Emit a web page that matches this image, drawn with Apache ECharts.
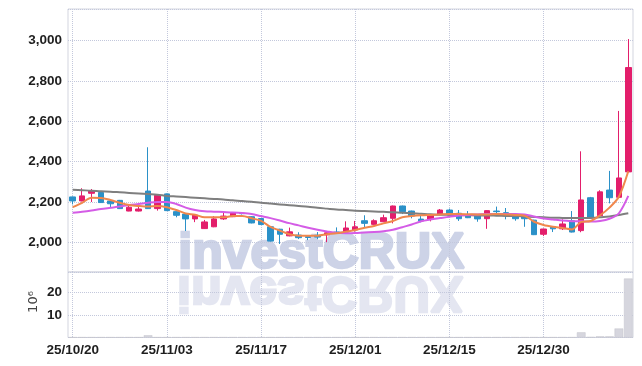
<!DOCTYPE html>
<html>
<head>
<meta charset="utf-8">
<script src="https://cdn.jsdelivr.net/npm/echarts@6/dist/echarts.min.js"></script>
<style>
html,body{margin:0;padding:0;background:#fff;}
#c{width:642px;height:366px;}
</style>
</head>
<body>
<div id="c"></div>
<script>
const dates = [
 '25/10/20','25/10/21','25/10/22','25/10/23','25/10/24','25/10/27','25/10/28','25/10/29','25/10/30','25/10/31',
 '25/11/03','25/11/04','25/11/05','25/11/06','25/11/07','25/11/10','25/11/11','25/11/12','25/11/13','25/11/14',
 '25/11/17','25/11/18','25/11/19','25/11/20','25/11/21','25/11/24','25/11/25','25/11/26','25/11/27','25/11/28',
 '25/12/01','25/12/02','25/12/03','25/12/04','25/12/05','25/12/08','25/12/09','25/12/10','25/12/11','25/12/12',
 '25/12/15','25/12/16','25/12/17','25/12/18','25/12/19','25/12/22','25/12/23','25/12/24','25/12/26','25/12/29',
 '25/12/30','26/01/02','26/01/05','26/01/06','26/01/07','26/01/08','26/01/09','26/01/12','26/01/13','26/01/14'
];
const openP  = [2225,2205,2243,2247,2205,2208,2155,2155,2254,2167, 2240,2152,2140,2116,2068,2077,2116,2127,2144,2127,
                2118,2077,2065,2032,2036,2028,2035,2037,2051,2051, 2061,2107,2089,2102,2119,2180,2155,2115,2114,2140,
                2160,2144,2132,2135,2117,2155,2147,2134,2132,2110, 2040,2077,2067,2107,2058,2221,2132,2259,2223,2349];
const closeP = [2205,2230,2254,2197,2191,2167,2174,2165,2167,2233, 2157,2134,2116,2135,2101,2116,2130,2145,2142,2096,
                2088,2006,2040,2052,2023,2024,2026,2047,2045,2071, 2077,2094,2107,2122,2180,2152,2130,2106,2135,2160,
                2140,2117,2122,2116,2157,2152,2134,2117,2117,2038, 2066,2067,2091,2051,2210,2124,2250,2221,2319,2866];
const lowP   = [2188,2203,2200,2195,2169,2165,2154,2153,2165,2157, 2155,2124,2056,2100,2066,2075,2111,2125,2138,2094,
                2086,2004,1992,2030,2016,2011,2016,2001,2043,2049, 2053,2074,2087,2100,2094,2140,2119,2099,2104,2138,
                2138,2106,2120,2102,2067,2140,2114,2107,2077,2036, 2031,2051,2061,2049,2050,2122,2128,2193,2221,2347];
const highP  = [2227,2268,2264,2249,2207,2210,2185,2179,2471,2236, 2242,2154,2142,2140,2111,2130,2147,2150,2148,2129,
                2120,2080,2067,2073,2050,2030,2051,2049,2074,2104, 2106,2134,2114,2137,2182,2182,2157,2134,2137,2165,
                2167,2160,2155,2137,2159,2177,2170,2136,2134,2112, 2068,2080,2114,2155,2451,2225,2258,2354,2651,3007];
const ma5    = [2174,2196,2221,2220,2210,2196,2185,2180,2177,2180, 2174,2160,2143,2137,2124,2124,2124,2130,2130,2119,
                2106,2077,2058,2040,2033,2033,2033,2040,2045,2053, 2061,2072,2081,2094,2106,2124,2130,2134,2136,2138,
                2140,2140,2139,2138,2138,2140,2138,2136,2132,2102, 2086,2077,2071,2064,2101,2106,2134,2172,2226,2352];
const ma10   = [2147,2152,2158,2165,2171,2177,2185,2190,2196,2200, 2200,2190,2172,2160,2154,2152,2150,2148,2145,2140,
                2130,2120,2108,2095,2084,2072,2062,2054,2047,2045, 2046,2049,2051,2055,2062,2075,2088,2104,2113,2120,
                2127,2133,2136,2138,2140,2140,2140,2140,2138,2128, 2118,2113,2108,2105,2104,2103,2106,2117,2144,2230];
const maLong = [2260,2258,2256,2253,2251,2248,2245,2242,2239,2236, 2230,2227,2224,2221,2218,2215,2212,2208,2205,2201,
                2196,2192,2188,2184,2180,2176,2171,2167,2163,2160, 2157,2155,2153,2151,2149,2146,2144,2141,2139,2137,
                2136,2135,2134,2133,2133,2132,2131,2130,2128,2126, 2124,2122,2121,2120,2120,2121,2124,2128,2135,2144];
const volume = [0.1,0.1,0.1,0.1,0.1,0.1,0.1,0.1,1.0,0.1, 0.1,0.1,0.1,0.1,0.1,0.1,0.1,0.1,0.1,0.1,
                0.1,0.1,0.1,0.1,0.1,0.1,0.1,0.1,0.1,0.1, 0.1,0.1,0.1,0.1,0.1,0.1,0.1,0.1,0.1,0.1,
                0.1,0.1,0.1,0.1,0.1,0.1,0.1,0.1,0.1,0.1, 0.1,0.1,0.1,0.1,2.3,0.2,0.5,0.5,4.0,26.2];

const UP = '#e31e6b', DOWN = '#2b91c8';
const candles = openP.map((o, i) => [o, closeP[i], lowP[i], highP[i]]);

const labelFont = {fontFamily: '"Liberation Sans Narrow","Liberation Sans",Arial,sans-serif', fontWeight: 'bold', fontSize: 13.5, color: '#1e1e1e'};
const splitStyle = {show: true, lineStyle: {type: 'dotted', color: '#c3c8dc', width: 1}};

const chart = echarts.init(document.getElementById('c'), null, {renderer: 'canvas'});
chart.setOption({
  animation: false,
  backgroundColor: '#fff',
  grid: [
    {left: 68, right: 9, top: 9, height: 263, show: true, borderColor: '#d3d5df', borderWidth: 1, backgroundColor: 'transparent'},
    {left: 68, right: 9, top: 272, height: 65.5, show: true, borderColor: '#d3d5df', borderWidth: 1, backgroundColor: 'transparent'}
  ],
  xAxis: [
    {type: 'category', gridIndex: 0, data: dates, boundaryGap: true,
     axisLine: {show: false}, axisTick: {show: false, interval: 9, alignWithLabel: true},
     axisLabel: {show: false, interval: 9},
     splitLine: Object.assign({interval: 9, alignWithLabel: true}, splitStyle)},
    {type: 'category', gridIndex: 1, data: dates, boundaryGap: true,
     axisLine: {show: false}, axisTick: {show: false, interval: 9, alignWithLabel: true},
     axisLabel: Object.assign({interval: 9, margin: 6}, labelFont),
     splitLine: Object.assign({interval: 9, alignWithLabel: true}, splitStyle)}
  ],
  yAxis: [
    {type: 'value', gridIndex: 0, min: 1853, max: 3156, splitNumber: 6, position: 'left',
     axisLine: {show: false}, axisTick: {show: false},
     axisLabel: Object.assign({margin: 6, padding: [4, 0, 0, 0], showMinLabel: false, showMaxLabel: false}, labelFont),
     splitLine: splitStyle},
    {type: 'value', gridIndex: 1, min: 0, max: 29.1, splitNumber: 3, position: 'left',
     axisLine: {show: false}, axisTick: {show: false},
     axisLabel: Object.assign({margin: 6, padding: [3, 0, 0, 0], showMinLabel: false, showMaxLabel: false}, labelFont),
     splitLine: splitStyle}
  ],
  graphic: [
    {type: 'text', z: -5, left: 177, top: 228,
     style: {text: 'investCRUX', font: 'bold 50px "Liberation Sans", Arial, sans-serif', fill: '#cdd3e7', stroke: '#cdd3e7', lineWidth: 2.5}},
    {type: 'text', z: -5, x: 177, y: 316, scaleY: -1,
     style: {text: 'investCRUX', font: 'bold 50px "Liberation Sans", Arial, sans-serif', fill: '#e4e6f1', stroke: '#e4e6f1', lineWidth: 2.5}},
    {type: 'text', z: 10, x: 34, y: 302, rotation: Math.PI / 2,
     style: {text: '10⁶', font: '13px "DejaVu Sans", sans-serif', fill: '#444', align: 'center', verticalAlign: 'middle'}}
  ],
  series: [
    {type: 'candlestick', name: 'price', xAxisIndex: 0, yAxisIndex: 0, data: candles, barWidth: 6,
     itemStyle: {color: UP, color0: DOWN, borderColor: UP, borderColor0: DOWN, borderWidth: 1}},
    {type: 'line', name: 'MA long', xAxisIndex: 0, yAxisIndex: 0, data: maLong, symbol: 'none', smooth: 0.3,
     lineStyle: {color: '#7f7f7f', width: 2}},
    {type: 'line', name: 'MA10', xAxisIndex: 0, yAxisIndex: 0, data: ma10, symbol: 'none', smooth: 0.3,
     lineStyle: {color: '#d45ce6', width: 2}},
    {type: 'line', name: 'MA5', xAxisIndex: 0, yAxisIndex: 0, data: ma5, symbol: 'none', smooth: 0.3,
     lineStyle: {color: '#f0874c', width: 2}},
    {type: 'bar', name: 'volume', xAxisIndex: 1, yAxisIndex: 1, data: volume, barCategoryGap: '8%',
     itemStyle: {color: '#d6d6de', borderColor: '#c4c4cc', borderWidth: 0.5}}
  ]
});
</script>
</body>
</html>
